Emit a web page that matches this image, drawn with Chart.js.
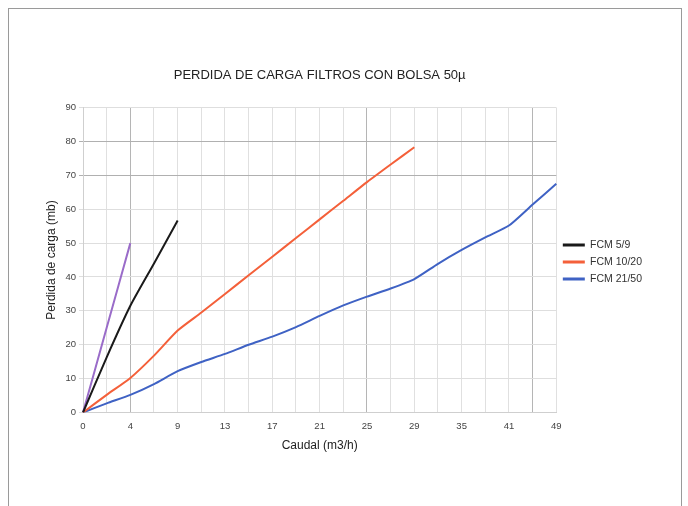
<!DOCTYPE html>
<html>
<head>
<meta charset="utf-8">
<script src="https://cdn.jsdelivr.net/npm/chart.js@4"></script>
<style>
  body { margin: 0; background: #fff; }
  #wrap { position: relative; width: 688px; height: 506px; }
  #frame { position: absolute; left: 8px; top: 8px; width: 672px; height: 520px; border: 1px solid #9a9a9a; }
  canvas { position: absolute; left: 0; top: 0; }
</style>
</head>
<body>
<div id="wrap">
  <div id="frame"></div>
  <canvas id="lossChart" width="688" height="506"></canvas>
</div>
<script>
// Caudal tick labels (every other category carries a label)
const xTickLabels = ['0', '4', '9', '13', '17', '21', '25', '29', '35', '41', '49'];

// Perdida de carga (mb), one value per half step of the x axis
const fcm59 = [0, 16.3, 31.5, 44, 56.7];
const fcm1020 = [0, 5.2, 10.2, 16.8, 24.2, 29.5, 35, 40.5, 46, 51.5, 57, 62.5, 68, 73.2, 78.3];
const fcm2150 = [0, 2.7, 5.2, 8.4, 12.2, 14.9, 17.3, 20, 22.4, 25.2, 28.5, 31.6, 34.2, 36.6, 39.4, 43.9, 48, 51.7, 55.2, 61.4, 67.5];
const extraSeries = [0, 25, 50];

// 21 categories: labelled ones at even positions
const categories = [];
xTickLabels.forEach((lbl, i) => {
    categories.push(lbl);
    if (i < xTickLabels.length - 1) categories.push('');
});

const darkX = [2, 12, 19];
const darkY = [70, 80];

const ctx = document.getElementById('lossChart').getContext('2d');
Chart.defaults.font.family = '"Liberation Sans", Arial, sans-serif';
Chart.defaults.color = '#444';

new Chart(ctx, {
    type: 'line',
    data: {
        labels: categories,
        datasets: [
            { label: 'FCM 5/9', data: fcm59, borderColor: '#1a1a1a', backgroundColor: '#1a1a1a' },
            { label: 'FCM 10/20', data: fcm1020, borderColor: '#f4603a', backgroundColor: '#f4603a' },
            { label: 'FCM 21/50', data: fcm2150, borderColor: '#3f62c4', backgroundColor: '#3f62c4' },
            { label: 'extra', data: extraSeries, borderColor: '#9a6cc9', backgroundColor: '#9a6cc9' }
        ]
    },
    options: {
        responsive: false,
        animation: false,
        elements: {
            line: { borderWidth: 2, tension: 0.2 },
            point: { radius: 0 }
        },
        layout: { padding: { left: 44, right: 36, top: 68, bottom: 50 } },
        plugins: {
            title: {
                display: true,
                fullSize: false,
                text: 'PERDIDA DE CARGA FILTROS CON BOLSA 50µ',
                color: '#222',
                font: { size: 13, weight: 'normal' },
                padding: { top: 0, bottom: 24 }
            },
            legend: {
                position: 'right',
                labels: {
                    filter: item => item.text !== 'extra',
                    generateLabels: chart => Chart.defaults.plugins.legend.labels.generateLabels(chart)
                        .map(item => Object.assign(item, { lineWidth: 3 })),
                    usePointStyle: true,
                    pointStyle: 'line',
                    pointStyleWidth: 22,
                    boxHeight: 6,
                    color: '#333',
                    font: { size: 10.5 },
                    padding: 6.5
                }
            },
            tooltip: { enabled: false }
        },
        scales: {
            x: {
                offset: false,
                grid: {
                    color: c => darkX.includes(c.index) ? '#b5b5b5' : '#e0e0e0',
                    drawTicks: false
                },
                border: { color: '#cfcfcf' },
                ticks: {
                    autoSkip: false,
                    maxRotation: 0,
                    padding: 9,
                    font: { size: 9.5, lineHeight: 1 },
                    color: '#444'
                },
                title: {
                    display: true,
                    text: 'Caudal (m3/h)',
                    color: '#222',
                    font: { size: 12, lineHeight: 1 },
                    padding: { top: 0 }
                }
            },
            y: {
                min: 0,
                max: 90,
                afterFit: s => { s.width = 39; },
                grid: {
                    color: c => darkY.includes(c.tick.value) ? '#b0b0b0' : '#dedede',
                    tickLength: 4
                },
                border: { color: '#cfcfcf' },
                ticks: {
                    stepSize: 10,
                    padding: 3,
                    font: { size: 9.5 },
                    color: '#444'
                },
                title: {
                    display: true,
                    text: 'Perdida de carga (mb)',
                    color: '#222',
                    font: { size: 12 },
                    padding: 0
                }
            }
        }
    }
});
</script>
</body>
</html>
